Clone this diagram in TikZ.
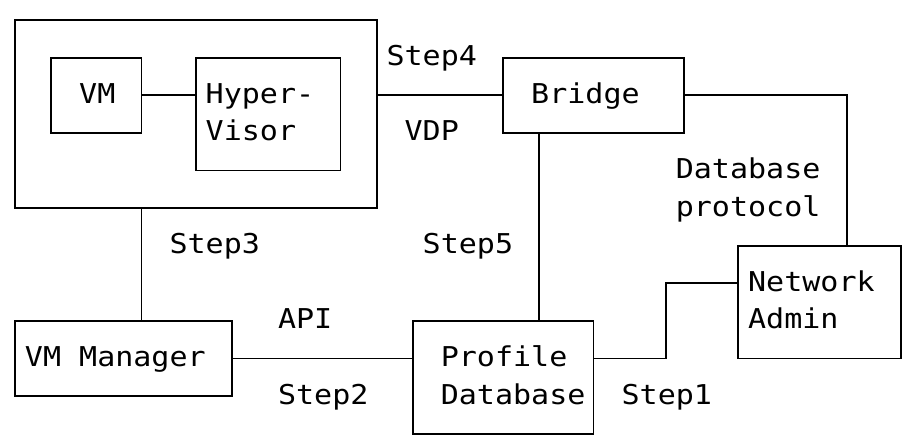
\documentclass[tikz,border=0pt]{standalone}
\usepackage{fontspec}
\newfontfamily\asciifont[FakeStretch=1.1]{DejaVu Sans Mono}
\usetikzlibrary{
    fit,
    positioning
}

\begin{document}
\begin{tikzpicture}[
x=9.04pt,
y={(0pt,-18.8pt)},
line width=0.9pt,
box/.style={
draw,
rectangle,
inner sep=0pt
},
lbl/.style={
font=\asciifont\fontsize{13.65}{16}\selectfont,
inner sep=0pt,
anchor=base west,
yshift=-4pt
}
]

\useasboundingbox (-0.83,-0.532) rectangle (49.17,11.223);

% boxes
\node[box, fit={(0,0) (20,5)}] (host) {};
\node[box, fit={(2,1) (7,3)}] (vm) {};
\node[box, fit={(10,1) (18,4)}] (hv) {};
\node[box, fit={(27,1) (37,3)}] (bridge) {};
\node[box, fit={(40,6) (49,9)}] (nadmin) {};
\node[box, fit={(0,8) (12,10)}] (vmm) {};
\node[box, fit={(22,8) (32,11)}] (profile) {};

% box texts
\node[lbl] (vmtxt) at (3.5,2) {VM};
\node[lbl] (hvtop) at (10.5,2) {Hyper-};
\node[lbl] (hvbot) at (10.5,3) {Visor};
\node[lbl] (brtxt) at (28.5,2) {Bridge};
\node[lbl] (natop) at (40.5,7) {Network};
\node[lbl] (nabot) at (40.5,8) {Admin};
\node[lbl] (vmmtxt) at (0.5,9) {VM Manager};
\node[lbl] (prtop) at (23.5,9) {Profile};
\node[lbl] (prbot) at (23.5,10) {Database};

% link texts
\node[lbl] (step4) at (20.5,1) {Step4};
\node[lbl] (vdp) at (21.5,3) {VDP};
\node[lbl] (dbtop) at (36.5,4) {Database};
\node[lbl] (dbbot) at (36.5,5) {protocol};
\node[lbl] (step3) at (8.5,6) {Step3};
\node[lbl] (step5) at (22.5,6) {Step5};
\node[lbl] (api) at (14.5,8) {API};
\node[lbl] (step2) at (14.5,10) {Step2};
\node[lbl] (step1) at (33.5,10) {Step1};

% columns of the vertical links
\coordinate (col3) at (7,0);
\coordinate (col5) at (29,0);
\coordinate (col4) at (46,0);
\coordinate (bend1) at (36,7);

\draw (vm.east) -- (vm.east -| hv.west);

\draw (bridge.west -| host.east) -- (bridge.west);

\draw (bridge.east) -| (col4 |- nadmin.north);

\draw (col5 |- bridge.south) -- (col5 |- profile.north);

\draw (col3 |- host.south) -- (col3 |- vmm.north);

\draw (vmm.east) -- (vmm.east -| profile.west);

\draw (profile.east |- vmm.east) -| (bend1) -- (bend1 -| nadmin.west);

\end{tikzpicture}
\end{document}
